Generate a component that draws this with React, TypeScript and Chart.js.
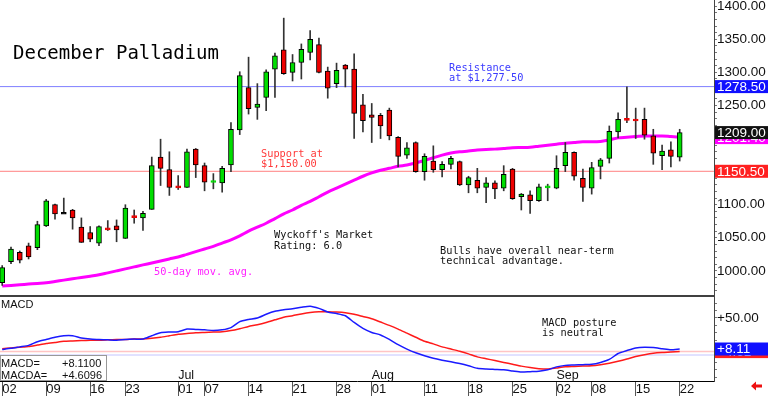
import React, { useEffect, useRef } from 'react';
import { Chart, registerables } from 'chart.js';
Chart.register(...registerables);

// Daily OHLC, December palladium (trading days Jun 2 – Sep 22)
const OPEN = [982, 1014, 1028, 1038, 1035, 1068, 1100, 1087, 1092, 1066, 1058, 1042, 1065, 1068, 1049, 1083, 1080, 1093, 1172, 1153, 1128, 1126, 1184, 1159, 1134, 1133, 1160, 1213, 1277, 1247, 1262, 1305, 1334, 1300, 1315, 1330, 1342, 1302, 1283, 1311, 1305, 1251, 1236, 1235, 1243, 1202, 1175, 1194, 1150, 1166, 1153, 1161, 1165, 1130, 1137, 1126, 1133, 1125, 1154, 1112, 1115, 1106, 1126, 1125, 1159, 1179, 1140, 1125, 1158, 1170, 1210, 1230, 1229, 1229, 1204, 1174, 1183, 1172];
const HIGH = [1008, 1036, 1030, 1042, 1075, 1108, 1101, 1110, 1093, 1080, 1067, 1068, 1076, 1077, 1100, 1092, 1090, 1172, 1199, 1180, 1144, 1184, 1185, 1163, 1147, 1158, 1224, 1301, 1323, 1283, 1304, 1329, 1382, 1327, 1343, 1363, 1352, 1308, 1314, 1312, 1328, 1267, 1253, 1238, 1246, 1203, 1194, 1195, 1177, 1189, 1165, 1173, 1166, 1143, 1155, 1141, 1136, 1159, 1155, 1117, 1121, 1131, 1131, 1174, 1194, 1180, 1154, 1164, 1170, 1219, 1239, 1278, 1246, 1246, 1214, 1190, 1195, 1214];
const LOW = [978, 1011, 1012, 1018, 1032, 1067, 1078, 1087, 1063, 1043, 1044, 1038, 1061, 1044, 1049, 1072, 1061, 1093, 1129, 1114, 1123, 1126, 1141, 1121, 1124, 1119, 1150, 1206, 1237, 1229, 1242, 1262, 1297, 1287, 1290, 1319, 1299, 1261, 1277, 1278, 1200, 1210, 1194, 1200, 1198, 1157, 1170, 1149, 1137, 1149, 1142, 1154, 1129, 1118, 1118, 1103, 1109, 1121, 1108, 1092, 1087, 1105, 1106, 1124, 1150, 1137, 1105, 1116, 1139, 1163, 1201, 1224, 1200, 1199, 1161, 1153, 1157, 1166];
const CLOSE = [1005, 1033, 1016, 1021, 1070, 1106, 1086, 1087, 1080, 1043, 1048, 1067, 1062, 1062, 1095, 1081, 1087, 1159, 1155, 1126, 1126, 1180, 1160, 1134, 1136, 1155, 1214, 1295, 1245, 1252, 1301, 1325, 1298, 1315, 1335, 1350, 1300, 1276, 1303, 1305, 1238, 1227, 1232, 1219, 1204, 1173, 1186, 1150, 1173, 1153, 1161, 1170, 1130, 1141, 1125, 1133, 1124, 1146, 1109, 1116, 1106, 1127, 1128, 1155, 1179, 1143, 1126, 1156, 1168, 1211, 1229, 1228, 1227, 1205, 1178, 1181, 1173, 1209];
const MA50 = [977, 978, 979, 980, 981, 982, 984, 986, 988, 990, 992, 994, 997, 1000, 1003, 1006, 1009, 1012, 1015, 1018, 1021, 1025, 1029, 1033, 1037, 1042, 1047, 1053, 1060, 1066, 1072, 1079, 1086, 1092, 1099, 1105, 1112, 1119, 1125, 1131, 1137, 1143, 1148, 1152, 1155, 1158, 1160, 1163, 1167, 1171, 1175, 1178, 1180, 1181, 1182.5, 1183.5, 1184, 1185, 1186, 1186.5, 1187, 1188.5, 1190, 1191.5, 1193, 1194, 1195, 1195, 1195.5, 1198, 1201, 1202, 1203, 1204, 1204, 1204, 1203, 1202];
const MACD = [7.5, 9, 11, 13, 18, 21, 24, 26, 26, 23, 21.5, 21, 20.5, 20, 21, 21.5, 21.5, 26, 30, 31, 31.5, 35, 34.5, 34, 33, 34, 37, 45, 48, 50, 55, 59, 61, 62.5, 64.5, 66, 63, 58, 56, 53, 44, 36, 30.5, 27, 21, 14, 8, 3, -1, -4.5, -7, -9, -11.5, -14.5, -18, -19, -19.5, -20, -21.5, -23, -22.5, -22, -20, -16, -14, -13.5, -13, -12.5, -10, -6, 2, 6, 9.5, 10.5, 10, 8.5, 7, 8.11];
const MACDA = [8.5, 9.5, 10.5, 11.5, 13.5, 15.5, 17, 18.5, 19, 19.5, 20, 20, 20.5, 21, 21, 21.5, 21.5, 22.5, 24, 26, 28, 29, 30, 30.5, 31, 31.5, 33, 35.5, 38.5, 41, 44, 47.5, 51, 53, 55.5, 57.5, 58.5, 58.5, 58, 57, 55, 52, 49, 44.5, 40, 35, 29.5, 24, 18.5, 15, 11, 8, 5, 1.5, -2.5, -5, -7.5, -10, -12.5, -15, -17, -18.5, -19, -17.5, -16, -15.5, -15, -14.5, -13, -11, -8.5, -5.5, -2, 0.5, 2.5, 3.5, 4, 4.61];

const TICK_DAYS = [0, 5, 10, 14, 20, 23, 28, 33, 38, 42, 48, 53, 58, 63, 67, 72, 77];
const TICK_LABELS = ['02', '09', '16', '23', '01', '07', '14', '21', '28', '01', '11', '18', '25', '02', '08', '15', '22'];
const MONTH_DAYS = [20, 42, 63];
const MONTH_LABELS = ['Jul', 'Aug', 'Sep'];

const RESISTANCE = 1278.5;
const SUPPORT = 1150.5;
const LAST_CLOSE = 1209.0;
const MA_LAST = 1201.4;
const MACD_LAST = 8.11;
const MACDA_LAST = 4.6096;

const GREEN = '#00dd00';
const RED = '#ee0000';
const X_MIN = -0.25;
const X_MAX = 80.9;
const MONO = '"DejaVu Sans Mono", monospace';
const SANS = '"Liberation Sans", Arial, sans-serif';

const overlay = {
  id: 'overlay',
  afterDatasetsDraw(chart: any) {
    const ctx = chart.ctx;
    ctx.save();
    ctx.textBaseline = 'alphabetic';
    ctx.textAlign = 'left';
    const t = (s: string, x: number, y: number, color: string, font: string) => {
      ctx.font = font;
      ctx.fillStyle = color;
      ctx.fillText(s, x, y);
    };
    const small = `10.3px ${MONO}`;
    t('December Palladium', 13, 59, '#000', `19px ${MONO}`);
    t('Resistance', 449, 70.5, '#3a3aff', small);
    t('at $1,277.50', 449, 80.5, '#3a3aff', small);
    t('Support at', 261, 157, '#ff3a3a', small);
    t('$1,150.00', 261, 166.5, '#ff3a3a', small);
    t("Wyckoff's Market", 274, 237.5, '#111', small);
    t('Rating: 6.0', 274, 249, '#111', small);
    t('Bulls have overall near-term', 440, 254, '#111', small);
    t('technical advantage.', 440, 264, '#111', small);
    t('50-day mov. avg.', 154, 275, '#ff22ff', small);
    t('MACD posture', 542, 326, '#111', small);
    t('is neutral', 542, 336, '#111', small);
    t('MACD', 1, 308, '#111', `11px ${SANS}`);
    ctx.restore();
  },
  afterDraw(chart: any) {
    const ctx = chart.ctx;
    const x = chart.scales.x;
    const yP = chart.scales.yP;
    const yM = chart.scales.yM;
    const area = chart.chartArea;
    ctx.save();
    // panel separator
    ctx.strokeStyle = '#000';
    ctx.lineWidth = 1.5;
    ctx.beginPath();
    ctx.moveTo(0, yP.bottom);
    ctx.lineTo(area.right, yP.bottom);
    ctx.stroke();
    // month labels
    ctx.font = `12.5px ${SANS}`;
    ctx.fillStyle = '#111';
    ctx.textBaseline = 'alphabetic';
    MONTH_DAYS.forEach((d, i) => ctx.fillText(MONTH_LABELS[i], x.getPixelForValue(d), 379));
    // MACD readout box
    ctx.fillStyle = '#fff';
    ctx.fillRect(0, 355, 107, 26);
    ctx.strokeStyle = '#999';
    ctx.lineWidth = 1;
    ctx.strokeRect(0.5, 355.5, 106, 25);
    ctx.fillStyle = '#111';
    ctx.font = `11px ${SANS}`;
    ctx.fillText('MACD=', 1, 367);
    ctx.fillText('+' + MACD_LAST.toFixed(4), 62, 367);
    ctx.fillText('MACDA=', 1, 378.5);
    ctx.fillText('+' + MACDA_LAST.toFixed(4), 62, 378.5);
    // right-axis value boxes
    const box = (py: number, bg: string, label: string) => {
      const h = 13;
      ctx.fillStyle = bg;
      ctx.fillRect(area.right + 1, py - h / 2, 768 - area.right - 1, h);
      ctx.fillStyle = '#fff';
      ctx.font = `13.5px ${SANS}`;
      ctx.textBaseline = 'middle';
      ctx.fillText(label, area.right + 3, py + 0.5);
    };
    box(yP.getPixelForValue(RESISTANCE), '#1010ff', RESISTANCE.toFixed(2));
    box(yP.getPixelForValue(MA_LAST), '#ff00ff', MA_LAST.toFixed(2));
    box(yP.getPixelForValue(LAST_CLOSE), '#111', LAST_CLOSE.toFixed(2));
    box(yP.getPixelForValue(SUPPORT), '#ff2020', SUPPORT.toFixed(2));
    box(yM.getPixelForValue(MACDA_LAST), '#ff2020', '+' + MACDA_LAST.toFixed(2));
    box(yM.getPixelForValue(MACD_LAST), '#1010ff', '+' + MACD_LAST.toFixed(2));
    // small red arrow
    ctx.fillStyle = '#ee1111';
    ctx.beginPath();
    ctx.moveTo(751, 386);
    ctx.lineTo(756, 381.5);
    ctx.lineTo(756, 384.5);
    ctx.lineTo(762, 384.5);
    ctx.lineTo(762, 387.5);
    ctx.lineTo(756, 387.5);
    ctx.lineTo(756, 390.5);
    ctx.closePath();
    ctx.fill();
    ctx.restore();
  },
};

export default function App() {
  const ref = useRef<HTMLCanvasElement>(null);
  useEffect(() => {
    const idx = OPEN.map((_, i) => i);
    const bodyColor = idx.map((i) => (CLOSE[i] > OPEN[i] ? GREEN : CLOSE[i] < OPEN[i] ? RED : '#000'));
    const bodyBorder = idx.map((i) => (Math.abs(CLOSE[i] - OPEN[i]) < 4 ? bodyColor[i] : '#000'));
    const bodyData = idx.map((i) => {
      const lo = Math.min(OPEN[i], CLOSE[i]);
      const hi = Math.max(OPEN[i], CLOSE[i]);
      if (hi - lo < 3) {
        const m = (hi + lo) / 2;
        return { x: i, y: [m - 1.5, m + 1.5] };
      }
      return { x: i, y: [lo, hi] };
    });
    const hLine = (v: number) => [
      { x: X_MIN, y: v },
      { x: X_MAX, y: v },
    ];
    const chart = new Chart(ref.current as HTMLCanvasElement, {
      data: {
        datasets: [
          {
            type: 'bar',
            data: bodyData as any,
            yAxisID: 'yP',
            backgroundColor: bodyColor,
            borderColor: bodyBorder,
            borderWidth: 1,
            borderSkipped: false,
            barThickness: 5,
            grouped: false,
          },
          {
            type: 'bar',
            data: idx.map((i) => ({ x: i, y: [LOW[i], HIGH[i]] })) as any,
            yAxisID: 'yP',
            backgroundColor: '#333',
            borderWidth: 0,
            barThickness: 1,
            grouped: false,
          },
          {
            type: 'line',
            data: idx.map((i) => ({ x: i, y: MA50[i] })),
            yAxisID: 'yP',
            borderColor: '#ff00ff',
            borderWidth: 3,
            pointRadius: 0,
            cubicInterpolationMode: 'monotone',
          },
          {
            type: 'line',
            data: hLine(RESISTANCE),
            yAxisID: 'yP',
            borderColor: '#7f7fff',
            borderWidth: 1,
            pointRadius: 0,
          },
          {
            type: 'line',
            data: hLine(SUPPORT),
            yAxisID: 'yP',
            borderColor: '#ff8080',
            borderWidth: 1,
            pointRadius: 0,
          },
          {
            type: 'line',
            data: idx.map((i) => ({ x: i, y: MACD[i] })),
            yAxisID: 'yM',
            borderColor: '#1a1aff',
            borderWidth: 1.5,
            pointRadius: 0,
            tension: 0.2,
          },
          {
            type: 'line',
            data: idx.map((i) => ({ x: i, y: MACDA[i] })),
            yAxisID: 'yM',
            borderColor: '#ff1a1a',
            borderWidth: 1.5,
            pointRadius: 0,
            tension: 0.2,
          },
          {
            type: 'line',
            data: hLine(MACDA_LAST),
            yAxisID: 'yM',
            borderColor: '#ffc4c4',
            borderWidth: 1.5,
            pointRadius: 0,
          },
          {
            type: 'line',
            data: hLine(0),
            yAxisID: 'yM',
            borderColor: '#c4c4ff',
            borderWidth: 1,
            pointRadius: 0,
          },
        ],
      } as any,
      options: {
        animation: false,
        responsive: false,
        maintainAspectRatio: false,
        layout: { padding: 0 },
        events: [],
        plugins: { legend: { display: false }, tooltip: { enabled: false } },
        font: { family: SANS },
        scales: {
          x: {
            type: 'linear',
            min: X_MIN,
            max: X_MAX,
            offset: false,
            afterBuildTicks: (s: any) => {
              s.ticks = TICK_DAYS.map((v) => ({ value: v }));
            },
            afterFit: (s: any) => {
              s.height = 15;
              s.paddingLeft = 0;
              s.paddingRight = 0;
            },
            ticks: {
              autoSkip: false,
              maxRotation: 0,
              minRotation: 0,
              align: 'start',
              padding: -14,
              color: '#111',
              font: { family: SANS, size: 13 },
              callback: (v: any) => {
                const k = TICK_DAYS.indexOf(Number(v));
                return k >= 0 ? TICK_LABELS[k] : '';
              },
            },
            grid: { drawOnChartArea: false, drawTicks: true, tickLength: 15, color: '#555', offset: false },
            border: { display: true, color: '#000', width: 1 },
          },
          yP: {
            type: 'linear',
            position: 'right',
            stack: 'panels',
            stackWeight: 296,
            min: 962,
            max: 1409.4,
            afterBuildTicks: (s: any) => {
              const t: any[] = [];
              for (let v = 970; v <= 1400; v += 10) t.push({ value: v });
              s.ticks = t;
            },
            afterFit: (s: any) => {
              s.width = 54;
              s.paddingTop = 0;
              s.paddingBottom = 0;
            },
            ticks: {
              autoSkip: false,
              padding: 0,
              color: '#111',
              font: { family: SANS, size: 13.5 },
              callback: (v: any) => (Number(v) % 50 === 0 ? Number(v).toFixed(2) : ''),
            },
            grid: { drawOnChartArea: false, tickLength: 3, color: '#777' },
            border: { display: true, color: '#444' },
          },
          yM: {
            type: 'linear',
            position: 'right',
            stack: 'panels',
            stackWeight: 85,
            min: -35.1,
            max: 79.7,
            afterBuildTicks: (s: any) => {
              const t: any[] = [];
              for (let v = -30; v <= 70; v += 10) t.push({ value: v });
              s.ticks = t;
            },
            afterFit: (s: any) => {
              s.width = 54;
              s.paddingTop = 0;
              s.paddingBottom = 0;
            },
            ticks: {
              autoSkip: false,
              padding: 0,
              color: '#111',
              font: { family: SANS, size: 13.5 },
              callback: (v: any) => (Number(v) === 50 ? '+50.00' : ''),
            },
            grid: { drawOnChartArea: false, tickLength: 3, color: '#777' },
            border: { display: true, color: '#444' },
          },
        },
      } as any,
      plugins: [overlay],
    });
    return () => chart.destroy();
  }, []);
  return (
    <div style={{ position: 'fixed', left: 0, top: 0, width: 768, height: 396, background: '#fff' }}>
      <canvas ref={ref} width={768} height={396} style={{ display: 'block', width: 768, height: 396 }} />
    </div>
  );
}
